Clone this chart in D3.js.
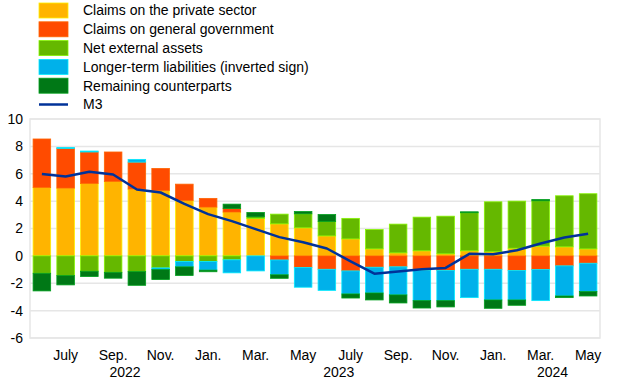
<!DOCTYPE html>
<html>
<head>
<meta charset="utf-8">
<script src="https://cdn.jsdelivr.net/npm/d3@7"></script>
<style>
  body { margin: 0; background: #fff; }
  svg text { font-family: "Liberation Sans", Arial, sans-serif; font-size: 14px; fill: #000; }
</style>
</head>
<body>
<svg id="chart" width="620" height="387"></svg>
<script>
// months June 2022 - May 2024
var months = ["2022-06","2022-07","2022-08","2022-09","2022-10","2022-11","2022-12",
  "2023-01","2023-02","2023-03","2023-04","2023-05","2023-06","2023-07","2023-08","2023-09","2023-10","2023-11","2023-12",
  "2024-01","2024-02","2024-03","2024-04","2024-05"];

var privateSector = [5.0, 4.95, 5.29, 5.44, 4.88, 4.78, 4.05, 3.56, 3.2, 2.73, 2.34, 2.05, 1.46, 1.24, 0.51, 0.22, 0.37, 0.15, 0.37, 0.3, 0.56, 0.71, 0.66, 0.51];
var generalGov = [3.54, 2.9, 2.3, 2.15, 1.97, 1.61, 1.19, 0.64, 0.26, 0, -0.3, -0.85, -0.98, -1.1, -0.83, -0.8, -1.07, -1.07, -0.98, -0.98, -1.07, -1.0, -0.73, -0.54];
var netExternal = [-1.27, -1.44, -1.12, -1.2, -1.15, -0.88, -0.41, -0.41, -0.29, 0.12, 0.71, 1.02, 1.05, 1.5, 1.41, 2.1, 2.46, 2.75, 2.78, 3.65, 3.44, 3.31, 3.73, 4.03];
var longerTerm = [0, 0.07, 0.07, 0, 0.2, -0.12, -0.39, -0.63, -0.95, -1.1, -1.08, -1.44, -1.54, -1.68, -1.88, -2.05, -2.2, -2.2, -2.07, -2.24, -2.15, -2.27, -2.2, -2.07];
var remaining = [-1.29, -0.68, -0.39, -0.43, -1.0, -0.73, -0.63, -0.12, 0.32, 0.32, -0.26, 0.17, 0.51, -0.3, -0.51, -0.59, -0.54, -0.46, 0.07, -0.61, -0.39, 0.1, -0.12, -0.32];
var m3 = [5.98, 5.8, 6.15, 5.95, 4.85, 4.63, 3.8, 3.05, 2.54, 1.95, 1.37, 1.0, 0.54, -0.4, -1.3, -1.15, -0.98, -0.88, 0.15, 0.12, 0.41, 0.9, 1.34, 1.61];

var seriesNames = ["Claims on the private sector", "Claims on general government", "Net external assets",
  "Longer-term liabilities (inverted sign)", "Remaining counterparts"];
var seriesColors = ["#FFB400", "#FF4B00", "#65B800", "#00B1EA", "#007816"];
var lineName = "M3";
var lineColor = "#003299";

var tickMonths = ["2022-07","2022-09","2022-11","2023-01","2023-03","2023-05","2023-07","2023-09","2023-11","2024-01","2024-03","2024-05"];
var tickLabels = ["July","Sep.","Nov.","Jan.","Mar.","May","July","Sep.","Nov.","Jan.","Mar.","May"];
var yearLabels = ["2022", "2023", "2024"];
var yearAnchors = ["2022-10", "2023-07", "2024-04"];
var yTicks = [-6, -4, -2, 0, 2, 4, 6, 8, 10];

var svg = d3.select("#chart");
var plotLeft = 30, plotRight = 600, plotTop = 119, plotBottom = 338;

var x = d3.scaleBand().domain(months).range([plotLeft, plotRight]).paddingInner(0.26).paddingOuter(0.13);
var y = d3.scaleLinear().domain([-6, 10]).range([plotBottom, plotTop]);

// table for the stack
var table = months.map(function(m, i) {
  return { month: m, s0: privateSector[i], s1: generalGov[i], s2: netExternal[i], s3: longerTerm[i], s4: remaining[i] };
});
var keys = ["s0", "s1", "s2", "s3", "s4"];
var stacked = d3.stack().keys(keys).offset(d3.stackOffsetDiverging)(table);

// gridlines
svg.append("g").selectAll("line")
  .data(yTicks)
  .enter().append("line")
  .attr("x1", plotLeft).attr("x2", plotRight)
  .attr("y1", function(d) { return y(d); })
  .attr("y2", function(d) { return y(d); })
  .attr("stroke", "#e6e6e6")
  .attr("stroke-width", 1.5);

// frame
svg.append("rect")
  .attr("x", plotLeft).attr("y", plotTop)
  .attr("width", plotRight - plotLeft).attr("height", plotBottom - plotTop)
  .attr("fill", "none").attr("stroke", "#e6e6e6").attr("stroke-width", 1.5);

// y axis labels
svg.append("g").selectAll("text")
  .data(yTicks)
  .enter().append("text")
  .attr("x", 23)
  .attr("y", function(d) { return y(d); })
  .attr("dy", "0.35em")
  .attr("text-anchor", "end")
  .text(function(d) { return d; });

// bars
svg.append("g").selectAll("g")
  .data(stacked)
  .enter().append("g")
  .attr("fill", function(d, i) { return seriesColors[i]; })
  .attr("stroke", function(d, i) { return d3.color(seriesColors[i]).brighter(0.8); })
  .attr("stroke-width", 0.8)
  .selectAll("rect")
  .data(function(d) { return d; })
  .enter().append("rect")
  .attr("x", function(d) { return x(d.data.month); })
  .attr("width", x.bandwidth())
  .attr("y", function(d) { return y(Math.max(d[0], d[1])); })
  .attr("height", function(d) { return Math.abs(y(d[0]) - y(d[1])); });

// M3 line
var line = d3.line()
  .x(function(d, i) { return x(months[i]) + x.bandwidth() / 2; })
  .y(function(d) { return y(d); });

svg.append("path")
  .datum(m3)
  .attr("d", line)
  .attr("fill", "none")
  .attr("stroke", lineColor)
  .attr("stroke-width", 2.5)
  .attr("stroke-linejoin", "round");

// x axis month labels
var xAxis = d3.axisBottom(x)
  .tickValues(tickMonths)
  .tickFormat(function(d) { return tickLabels[tickMonths.indexOf(d)]; })
  .tickSize(0)
  .tickPadding(0);

var gx = svg.append("g")
  .attr("transform", "translate(0," + 350 + ")")
  .call(xAxis);
gx.select(".domain").remove();
gx.selectAll("text").attr("font-size", 14).attr("font-family", "Liberation Sans, Arial, sans-serif").attr("fill", "#000");

// year labels
var gap = (x.step() - x.bandwidth()) / 2;
svg.append("g").selectAll("text")
  .data(yearLabels)
  .enter().append("text")
  .attr("x", function(d, i) { return x(yearAnchors[i]) - gap; })
  .attr("y", 377)
  .attr("text-anchor", "middle")
  .text(function(d) { return d; });

// legend
var legend = svg.append("g");
seriesNames.forEach(function(name, i) {
  var ly = 3 + i * 18.8;
  legend.append("rect")
    .attr("x", 39).attr("y", ly)
    .attr("width", 29).attr("height", 15)
    .attr("fill", seriesColors[i])
    .attr("stroke", d3.color(seriesColors[i]).brighter(0.8))
    .attr("stroke-width", 0.8);
  legend.append("text")
    .attr("x", 83).attr("y", ly + 7.5)
    .attr("dy", "0.35em")
    .text(name);
});
var lly = 3 + 5 * 18.8 + 7.5;
legend.append("line")
  .attr("x1", 39).attr("x2", 68)
  .attr("y1", lly).attr("y2", lly)
  .attr("stroke", lineColor).attr("stroke-width", 2.5);
legend.append("text")
  .attr("x", 83).attr("y", lly)
  .attr("dy", "0.35em")
  .text(lineName);
</script>
</body>
</html>
